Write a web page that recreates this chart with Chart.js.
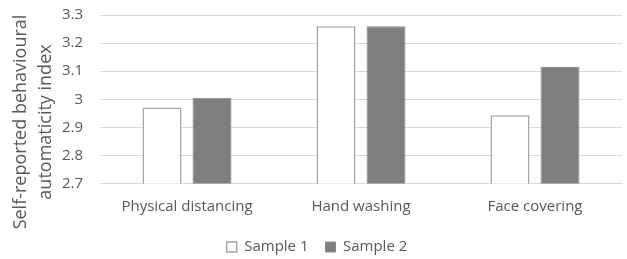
<!DOCTYPE html>
<html>
<head>
<meta charset="utf-8">
<script src="https://cdn.jsdelivr.net/npm/chart.js@4"></script>
<style>
  html, body { margin: 0; padding: 0; background: #fff; }
  #wrap { width: 627px; height: 259px; }
</style>
</head>
<body>
<div id="wrap"><canvas id="myChart"></canvas></div>
<script>
const categories = ["Physical distancing", "Hand washing", "Face covering"];
const sample1 = [2.971, 3.26, 2.943];
const sample2 = [3.005, 3.26, 3.115];
const seriesNames = ["Sample 1", "Sample 2"];
const yTitleLines = ["Self-reported behavioural", "automaticity index"];

const textColor = "#595959";
const fontFamily = "'Open Sans', sans-serif";

// y axis title drawn by hand, it sits lower than the axis centre in the picture
const yTitlePlugin = {
  id: "yTitle",
  afterDraw(chart) {
    let ctx = chart.ctx;
    ctx.save();
    ctx.fillStyle = textColor;
    ctx.font = "18px " + fontFamily;
    ctx.textAlign = "center";
    ctx.textBaseline = "middle";
    let xs = [21, 46];
    yTitleLines.forEach((line, i) => {
      ctx.save();
      ctx.translate(xs[i], 122);
      ctx.rotate(-Math.PI / 2);
      ctx.fillText(line, 0, 0);
      ctx.restore();
    });
    ctx.restore();
  },
};

let ctx = document.getElementById("myChart").getContext("2d");
let chart = new Chart(ctx, {
  type: "bar",
  data: {
    labels: categories,
    datasets: [
      {
        label: seriesNames[0],
        data: sample1,
        backgroundColor: "#ffffff",
        borderColor: "#a6a6a6",
        borderWidth: 1.5,
        categoryPercentage: 0.575,
        barPercentage: 0.78,
      },
      {
        label: seriesNames[1],
        data: sample2,
        backgroundColor: "#7f7f80",
        borderColor: "#8a8a8b",
        borderWidth: 1,
        categoryPercentage: 0.575,
        barPercentage: 0.78,
      },
    ],
  },
  options: {
    responsive: true,
    maintainAspectRatio: false,
    animation: false,
    layout: { padding: { top: 15, right: 5, left: 12, bottom: -5.5 } },
    plugins: {
      tooltip: { enabled: false },
      legend: {
        position: "bottom",
        labels: {
          color: textColor,
          font: { family: fontFamily, size: 15 },
          boxWidth: 10,
          boxHeight: 10,
          padding: 17,
          useBorderRadius: false,
        },
      },
    },
    scales: {
      x: {
        afterFit(scale) {
          scale.height = 39;
          scale.paddingLeft = 0;
          scale.paddingRight = 0;
        },
        grid: { display: false, drawTicks: false },
        border: { display: true, color: "#d9d9d9", width: 1 },
        ticks: {
          color: textColor,
          font: { family: fontFamily, size: 15 },
          padding: 14,
        },
      },
      y: {
        min: 2.7,
        max: 3.3,
        afterFit(scale) {
          scale.width = 88;
          scale.paddingTop = 0;
          scale.paddingBottom = 0;
        },
        grid: { color: "#d9d9d9", drawTicks: false, lineWidth: 1 },
        border: { display: false },
        ticks: {
          stepSize: 0.1,
          color: textColor,
          font: { family: fontFamily, size: 15 },
          padding: 17,
          callback: (v) => Math.round(v * 10) / 10,
        },
      },
    },
  },
  plugins: [yTitlePlugin],
});
</script>
</body>
</html>
